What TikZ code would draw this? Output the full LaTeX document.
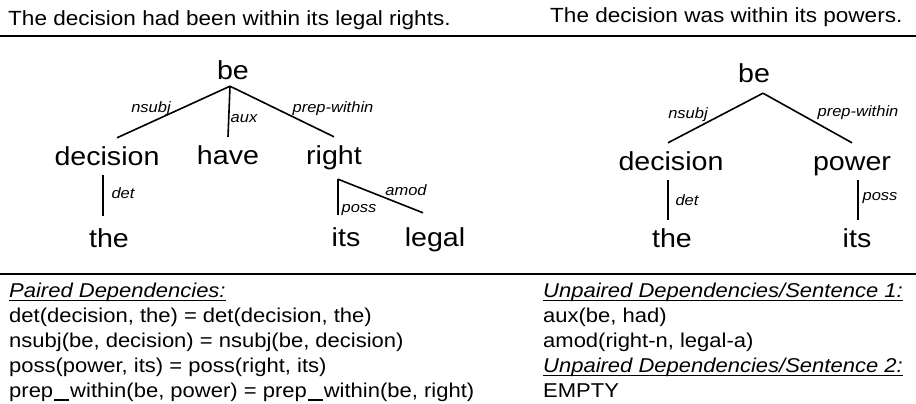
\documentclass[tikz,border=0pt]{standalone}
\usepackage{fontspec}
\setmainfont{Liberation Sans}[FakeStretch=1.1]
\usetikzlibrary{positioning}

% underline that sits just under the baseline
\newcommand{\underrule}[1]{\leavevmode\setbox0\hbox{#1}\rlap{\rule[-4.2pt]{\wd0}{1.3pt}}\box0}
% wide underscore as in prep_within
\newcommand{\uscore}{\kern1pt\rule[-3.6pt]{15pt}{1.3pt}\kern1pt}

\begin{document}
\begin{tikzpicture}[
  x=1pt, y=-1pt,
  word/.style={font=\fontsize{26}{30}\selectfont, anchor=base, inner xsep=0pt, inner ysep=8pt, text height=19pt, text depth=2pt},
  deplabel/.style={font=\fontsize{15}{18}\selectfont\itshape, anchor=base, inner sep=0pt},
  sentence/.style={font=\fontsize{20.5}{24}\selectfont, anchor=base west, inner sep=0pt},
  listing/.style={font=\fontsize{20}{25}\selectfont, anchor=base west, inner sep=0pt},
  arc/.style={line width=1.6pt},
  rule/.style={line width=2.5pt}
]
\useasboundingbox (0,0) rectangle (916,404);

% the two sentences
\node[sentence] (sent1) at (8,26) {The decision had been within its legal rights.};
\node[sentence] (sent2) at (550,23) {The decision was within its powers.};
\draw[rule] (0,36) -- (916,36);

% tree of sentence 1
\node[word] (be1) at (233,80) {be};
\node[word] (dec1) at (107,165) {decision};
\node[word] (have1) at (228,164) {have};
\node[word] (right1) at (334,164) {right};
\node[word] (the1) at (109,247) {the};
\node[word] (its1) at (346,246) {its};
\node[word] (legal1) at (435,246) {legal};

\coordinate (top1) at ([xshift=-3pt,yshift=4pt]be1.south);
\coordinate (fork1) at ([xshift=4pt,yshift=-5pt]right1.south);

\draw[arc] (top1) -- ([xshift=10pt]dec1.north);
\draw[arc] (top1) -- (have1.north);
\draw[arc] (top1) -- (right1.north);
\draw[arc] ([xshift=-4pt]dec1.south) -- ([xshift=-6pt,yshift=4pt]the1.north);
\draw[arc] (fork1) -- ([xshift=-8pt,yshift=4pt]its1.north);
\draw[arc] (fork1) -- ([xshift=-12pt,yshift=6pt]legal1.north);

\node[deplabel] (nsubj1) at (151,112) {nsubj};
\node[deplabel] (aux1) at (244,122) {aux};
\node[deplabel] (prep1) at (333,113) {prep-within};
\node[deplabel] (det1) at (123,198) {det};
\node[deplabel] (poss1) at (359,212) {poss};
\node[deplabel] (amod1) at (406,195) {amod};

% tree of sentence 2
\node[word] (be2) at (754,83) {be};
\node[word] (dec2) at (671,170) {decision};
\node[word] (power2) at (852,170) {power};
\node[word] (the2) at (672,247) {the};
\node[word] (its2) at (857,247) {its};

\coordinate (top2) at ([xshift=9pt]be2.south);

\draw[arc] (top2) -- ([xshift=-3pt]dec2.north);
\draw[arc] (top2) -- (power2.north);
\draw[arc] ([xshift=-3pt]dec2.south) -- ([xshift=-4pt]the2.north);
\draw[arc] ([xshift=6pt]power2.south) -- ([xshift=1pt]its2.north);

\node[deplabel] (nsubj2) at (688,118) {nsubj};
\node[deplabel] (prep2) at (858,117) {prep-within};
\node[deplabel] (det2) at (687,205) {det};
\node[deplabel] (poss2) at (880,200) {poss};

% dependency lists
\draw[rule] (0,274) -- (916,274);

\node[listing] (paired) at (9,297) {\parbox[t]{520pt}{%
  \underrule{\itshape Paired Dependencies:}\\
  det(decision, the) = det(decision, the)\\
  nsubj(be, decision) = nsubj(be, decision)\\
  poss(power, its) = poss(right, its)\\
  prep\uscore within(be, power) = prep\uscore within(be, right)}};

\node[listing] (unpaired) at (543,297) {\parbox[t]{380pt}{%
  \underrule{\itshape Unpaired Dependencies/Sentence 1:}\\
  aux(be, had)\\
  amod(right-n, legal-a)\\
  \underrule{\itshape Unpaired Dependencies/Sentence 2:}\\
  EMPTY}};

\end{tikzpicture}
\end{document}
